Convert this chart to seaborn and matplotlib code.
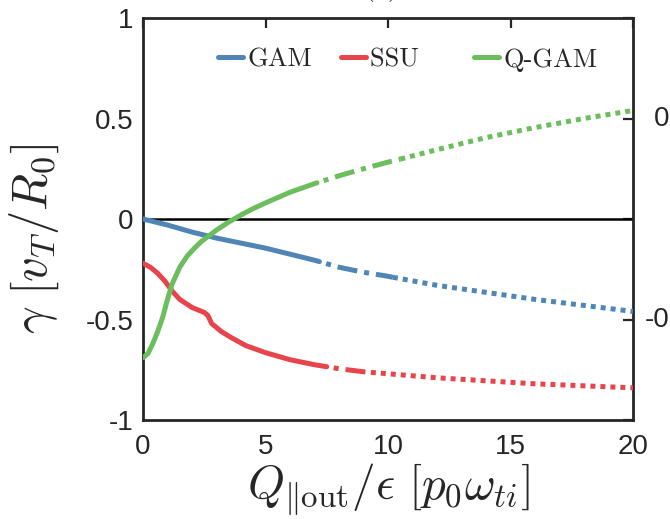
import numpy as np
import pandas as pd
import matplotlib
matplotlib.use("Agg")
import matplotlib.pyplot as plt
from matplotlib.lines import Line2D
import seaborn as sns

# ---- data ----
gam_x = [0, 1, 2, 3, 4, 5, 6, 7, 7.2, 8, 9, 10, 10.2, 12, 14, 16, 18, 20]
gam_y = [0, -0.03, -0.065, -0.095, -0.12, -0.145, -0.175, -0.205, -0.212,
         -0.24, -0.265, -0.285, -0.29, -0.33, -0.365, -0.40, -0.43, -0.46]

ssu_x = [0, 0.3, 0.6, 0.9, 1.2, 1.5, 2.0, 2.5, 2.65, 2.8, 3.2, 3.6, 4.2, 5,
         6, 7, 7.5, 8, 9, 9.3, 10, 12, 14, 16, 18, 20]
ssu_y = [-0.22, -0.24, -0.27, -0.31, -0.36, -0.40, -0.44, -0.465, -0.48,
         -0.52, -0.56, -0.59, -0.63, -0.665, -0.70, -0.725, -0.735, -0.745,
         -0.76, -0.763, -0.77, -0.79, -0.805, -0.82, -0.83, -0.84]

qgam_x = [0, 0.2, 0.4, 0.6, 0.8, 1.0, 1.2, 1.5, 1.8, 2.1, 2.4, 2.7, 3.0,
          3.5, 4.0, 4.5, 5, 6, 7, 7.1, 8, 9, 10, 10.5, 12, 14, 16, 18, 20]
qgam_y = [-0.69, -0.67, -0.62, -0.56, -0.49, -0.40, -0.32, -0.24, -0.185,
          -0.145, -0.11, -0.083, -0.055, -0.015, 0.02, 0.052, 0.08, 0.133,
          0.176, 0.18, 0.215, 0.25, 0.283, 0.298, 0.345, 0.405, 0.455,
          0.50, 0.54]

series_names = ["GAM", "SSU", "Q-GAM"]
x_ticks = [0, 5, 10, 15, 20]
y_ticks = [-1, -0.5, 0, 0.5, 1]
y_tick_labels = ["-1", "-0.5", "0", "0.5", "1"]

# ---- style ----
colors = {"GAM": "#4f86b6", "SSU": "#e8444b", "Q-GAM": "#6cbd5e"}
breaks = {"GAM": (7.2, 10.2), "SSU": (7.5, 9.3), "Q-GAM": (7.1, 10.5)}

rows = []
for name, xs, ys in [("GAM", gam_x, gam_y), ("SSU", ssu_x, ssu_y),
                     ("Q-GAM", qgam_x, qgam_y)]:
    b1, b2 = breaks[name]
    for x, y in zip(xs, ys):
        if x <= b1:
            rows.append((name, "solid", x, y))
        if b1 <= x <= b2:
            rows.append((name, "dashdot", x, y))
        if x >= b2:
            rows.append((name, "dotted", x, y))
df = pd.DataFrame(rows, columns=["series", "seg", "x", "y"])

sns.set_style("white")
plt.rcParams["mathtext.fontset"] = "cm"
plt.rcParams["font.family"] = ["Liberation Sans", "DejaVu Sans"]

fig = plt.figure(figsize=(6.70, 5.19), dpi=100)
ax = fig.add_axes([143 / 670, 1 - 420 / 519, 490 / 670, 402 / 519])

ax.axhline(0, color="black", lw=1.8, zorder=1)

lw = 3.6
sns.lineplot(data=df, x="x", y="y", hue="series", style="seg",
             hue_order=series_names, palette=colors,
             style_order=["solid", "dashdot", "dotted"],
             dashes={"solid": "",
                     "dashdot": (0.001, 1.4, 1, 1.4, 4, 0.001),
                     "dotted": (1, 1)},
             estimator=None, sort=False, lw=lw, legend=False, ax=ax, zorder=3)

ax.set_xlim(0, 20)
ax.set_ylim(-1, 1)
ax.set_xticks(x_ticks)
ax.set_yticks(y_ticks)
ax.set_yticklabels(y_tick_labels)
ax.tick_params(direction="in", length=7, width=1.6, labelsize=20, pad=7,
               top=True, right=True, colors="#262626", labelcolor="#262626")
ax.tick_params(axis="x", pad=10)
for s in ax.spines.values():
    s.set_visible(True)
    s.set_linewidth(2.0)
    s.set_color("#262626")

ax.set_xlabel(r"$Q_{\Vert\mathrm{out}}/\epsilon\ [p_0\omega_{ti}]$",
              fontsize=34, labelpad=1)
ax.set_ylabel(r"$\gamma\ [v_T/R_0]$", fontsize=35)
ax.yaxis.set_label_coords(-0.168, 0.45)

handles = [Line2D([], [], color=colors[n], lw=lw) for n in series_names]
leg_labels = ["GAM", "SSU   ", "Q-GAM"]
leg = ax.legend(handles, leg_labels, ncol=3, loc="upper center",
                bbox_to_anchor=(0.54, 0.985), frameon=False,
                handlelength=0.95, handletextpad=0.15, columnspacing=1.1,
                prop={"family": "cmr10", "size": 19})

# cropped tick labels of the neighbouring panel and the panel tag
fig.text(654 / 670, 1 - 119 / 519, "0.5", fontsize=20, color="#262626",
         ha="left", va="center")
fig.text(645 / 670, 1 - 320 / 519, "-0.5", fontsize=20, color="#262626",
         ha="left", va="center")
fig.text(381 / 670, 1 + 5 / 519, "(a)", fontsize=20, color="#262626",
         ha="center", va="baseline", family="cmr10")

fig.savefig("out.png", dpi=100)
